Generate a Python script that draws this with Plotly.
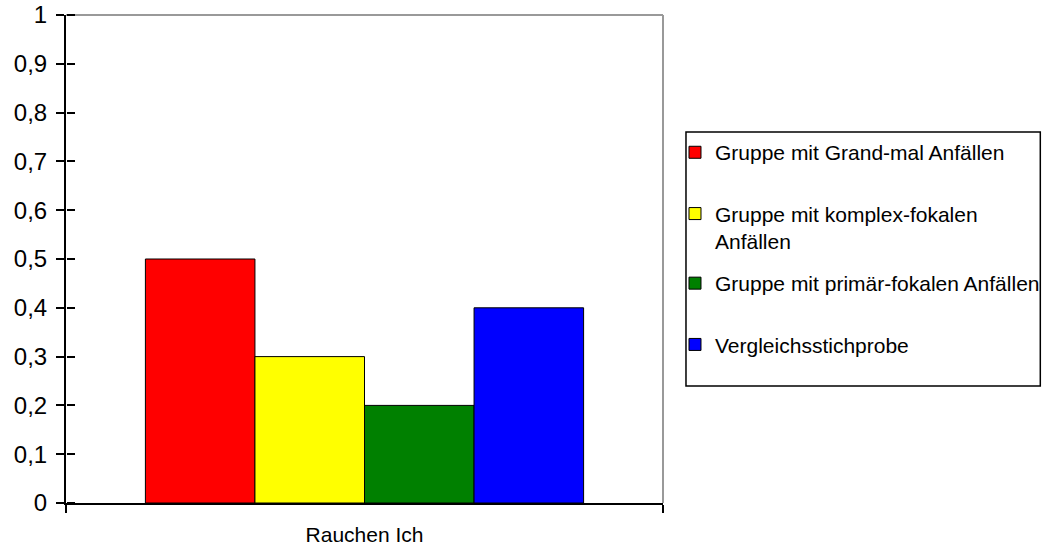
import plotly.graph_objects as go

# Anteil "Rauchen Ich" je Gruppe
categories = ["Rauchen Ich"]
groups = [
    "Gruppe mit Grand-mal Anfällen",
    "Gruppe mit komplex-fokalen<br>Anfällen",
    "Gruppe mit primär-fokalen Anfällen",
    "Vergleichsstichprobe",
]
values_grand_mal = [0.5]
values_komplex_fokal = [0.3]
values_primaer_fokal = [0.2]
values_vergleich = [0.4]
colors = ["#ff0000", "#ffff00", "#008000", "#0000ff"]

series = [values_grand_mal, values_komplex_fokal, values_primaer_fokal, values_vergleich]
legend_ids = ["legend", "legend", "legend2", "legend2"]

FONT = "Liberation Sans, Arial, sans-serif"

fig = go.Figure()
for i, (name, vals, col, lg) in enumerate(zip(groups, series, colors, legend_ids)):
    fig.add_trace(go.Bar(
        x=categories, y=vals, name=name, legendgroup=f"g{i}", legend=lg,
        marker=dict(color=col, line=dict(color="black", width=1)),
    ))

# unsichtbare Spur für die zweite y-Achse (Striche nach innen)
fig.add_trace(go.Scatter(x=categories, y=[0], yaxis="y2", mode="markers",
                         marker=dict(opacity=0), showlegend=False,
                         hoverinfo="skip"))

legend_style = dict(
    x=1.0201, xanchor="left", yanchor="top",
    font=dict(family=FONT, size=21, color="black"),
    borderwidth=0, bgcolor="rgba(0,0,0,0)",
    tracegroupgap=31, valign="top", traceorder="grouped",
)

fig.update_layout(
    width=1042, height=549,
    margin=dict(l=66, r=379, t=15, b=46, autoexpand=False),
    paper_bgcolor="white", plot_bgcolor="white",
    font=dict(family=FONT, size=21, color="black"),
    separators=",.",
    barmode="group", bargap=0.266, bargroupgap=0,
    showlegend=True,
    legend=dict(y=0.760, **legend_style),
    legend2=dict(y=0.4918, **legend_style),
    xaxis=dict(
        showline=True, linecolor="black", linewidth=2,
        ticks="outside", tickson="boundaries", ticklen=8, tickwidth=2,
        tickcolor="black", showgrid=False, zeroline=False,
        tickfont=dict(family=FONT, size=21), ticklabelstandoff=12,
        automargin=False,
    ),
    yaxis=dict(
        range=[0, 1], dtick=0.1, tick0=0,
        showline=True, linecolor="black", linewidth=2,
        ticks="outside", ticklen=8, tickwidth=2, tickcolor="black",
        showgrid=False, zeroline=False,
        tickfont=dict(family=FONT, size=24),
        ticklabelstandoff=4, automargin=False,
    ),
    yaxis2=dict(
        range=[0, 1], dtick=0.1, tick0=0, overlaying="y",
        side="right", anchor="free", position=0,
        showline=False, ticks="outside", ticklen=8, tickwidth=2,
        tickcolor="black", showticklabels=False, showgrid=False,
        zeroline=False, automargin=False,
    ),
    shapes=[
        # grauer Rahmen oben und rechts
        dict(type="line", xref="paper", yref="paper", x0=0, x1=1, y0=1, y1=1,
             line=dict(color="#999999", width=2), layer="below"),
        dict(type="line", xref="paper", yref="paper", x0=1, x1=1, y0=0, y1=1,
             line=dict(color="#999999", width=2), layer="below"),
        # Legendenrahmen
        dict(type="rect", xref="paper", yref="paper",
             x0=1.0385, x1=1.632, y0=0.2398, y1=0.760,
             line=dict(color="black", width=1.5), fillcolor="rgba(0,0,0,0)"),
    ],
)

fig.write_html("out.html")
